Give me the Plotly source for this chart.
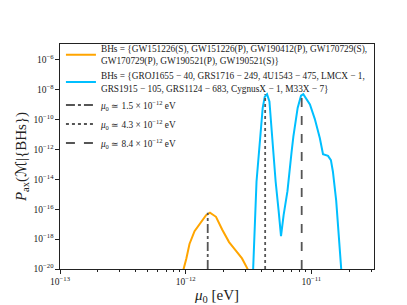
import plotly.graph_objects as go

# Orange series (BHs set 1)
orange_x = [9.5e-13, 9.64e-13, 1.014e-12, 1.074e-12, 1.178e-12, 1.288e-12, 1.455e-12, 1.563e-12,
            1.746e-12, 1.954e-12, 2.218e-12, 2.512e-12, 2.812e-12, 3.09e-12, 3.24e-12]
orange_y = [5e-21, 1e-20, 5.1e-20, 4.7e-19, 3.4e-18, 9.1e-18, 4.0e-17, 5.9e-17,
            3.1e-17, 4.4e-18, 6.3e-19, 1.7e-19, 5.1e-20, 1.15e-20, 5e-21]

# Blue series (BHs set 2)
blue_x = [3.39e-12, 3.45e-12, 3.67e-12, 3.83e-12, 3.94e-12, 4.11e-12, 4.27e-12, 4.45e-12, 4.65e-12,
          4.86e-12, 5.02e-12, 5.21e-12, 5.50e-12, 5.75e-12, 6.03e-12, 6.47e-12, 6.97e-12, 7.21e-12,
          7.80e-12, 8.30e-12, 8.65e-12, 9.18e-12, 9.77e-12, 1.069e-11, 1.172e-11, 1.242e-11,
          1.361e-11, 1.435e-11, 1.489e-11, 1.581e-11, 1.683e-11, 1.734e-11, 1.78e-11]
blue_y = [5e-21, 1e-20, 7.1e-15, 6.0e-13, 7.2e-12, 6.0e-10, 3.4e-9, 4.9e-9, 1.6e-9,
          7.2e-12, 1.4e-13, 7.1e-15, 8.3e-17, 1.6e-18, 4.0e-17, 1.6e-15, 6.0e-13, 7.2e-12,
          6.0e-10, 3.9e-9, 4.9e-9, 2.1e-9, 1.0e-9, 1.07e-10, 5.6e-12, 4.7e-13,
          3.7e-13, 1.9e-13, 3.2e-14, 3.7e-16, 2.2e-19, 1e-20, 5e-21]

# Vertical reference lines
mu_x = [1.5e-12, 4.3e-12, 8.4e-12]
mu_top = [5.9e-17, 4.9e-9, 4.9e-9]
mu_bottom = 1e-20
mu_labels = ["1.5", "4.3", "8.4"]
mu_dash = ["dashdot", "dot", "dash"]

label_orange = ("BHs = {GW151226(S), GW151226(P), GW190412(P), GW170729(S),<br>"
                "GW170729(P), GW190521(P), GW190521(S)}")
label_blue = ("BHs = {GROJ1655 − 40, GRS1716 − 249, 4U1543 − 475, LMCX − 1,<br>"
              "GRS1915 − 105, GRS1124 − 683, CygnusX − 1, M33X − 7}")

y_tickvals = [1e-6, 1e-8, 1e-10, 1e-12, 1e-14, 1e-16, 1e-18, 1e-20]
y_ticktext = ["10<sup>−6</sup>", "10<sup>−8</sup>", "10<sup>−10</sup>", "10<sup>−12</sup>",
              "10<sup>−14</sup>", "10<sup>−16</sup>", "10<sup>−18</sup>", "10<sup>−20</sup>"]
x_tickvals = [1e-13, 1e-12, 1e-11]
x_ticktext = ["10<sup>−13</sup>", "10<sup>−12</sup>", "10<sup>−11</sup>"]
x_minor = [m * 10.0**e for e in (-13, -12) for m in range(2, 10)] + [2e-11, 3e-11]

FONT = "Liberation Serif"
fig = go.Figure()
fig.add_trace(go.Scatter(x=orange_x, y=orange_y, mode="lines", name=label_orange,
                         line=dict(color="#FFA500", width=2)))
fig.add_trace(go.Scatter(x=blue_x, y=blue_y, mode="lines", name=label_blue,
                         line=dict(color="#00BFFF", width=2)))
for xv, top, lab, dsh in zip(mu_x, mu_top, mu_labels, mu_dash):
    fig.add_trace(go.Scatter(x=[xv, xv], y=[mu_bottom, top], mode="lines",
                             name=f"<i>μ</i><sub>0</sub> ≃ {lab} × 10<sup>−12</sup> eV",
                             line=dict(color="#555555", width=1.8, dash=dsh)))

fig.update_layout(
    width=407, height=305,
    margin=dict(l=51, r=41, t=36, b=34),
    paper_bgcolor="white", plot_bgcolor="white",
    font=dict(family=FONT, size=9, color="#222"),
    showlegend=True,
    legend=dict(x=0.003, y=1.035, xanchor="left", yanchor="top",
                bgcolor="rgba(255,255,255,0)", borderwidth=0,
                font=dict(family=FONT, size=9.3), tracegroupgap=0, itemwidth=30),
    xaxis=dict(type="log", range=[-13, -10.5], showgrid=False, zeroline=False,
               showline=True, linecolor="#222", linewidth=1.2, mirror=True,
               ticks="outside", ticklen=3.5, tickcolor="#222",
               tickvals=x_tickvals, ticktext=x_ticktext, tickfont=dict(size=9.5),
               minor=dict(tickvals=x_minor, ticks="outside", ticklen=2, tickcolor="#222"),
               title=dict(text="<i>μ</i><sub>0</sub> [eV]", font=dict(size=15), standoff=3)),
    yaxis=dict(type="log", range=[-20, -4.95], showgrid=False, zeroline=False,
               showline=True, linecolor="#222", linewidth=1.2, mirror=True,
               ticks="outside", ticklen=3.5, tickcolor="#222",
               tickvals=y_tickvals, ticktext=y_ticktext, tickfont=dict(size=9.5),
               title=dict(text="<i>P</i><sub>ax</sub>(<span style=\"font-family:DejaVu Sans\">ℳ</span>|{BHs})",
                          font=dict(size=15), standoff=3)),
)
fig.write_html("out.html")
